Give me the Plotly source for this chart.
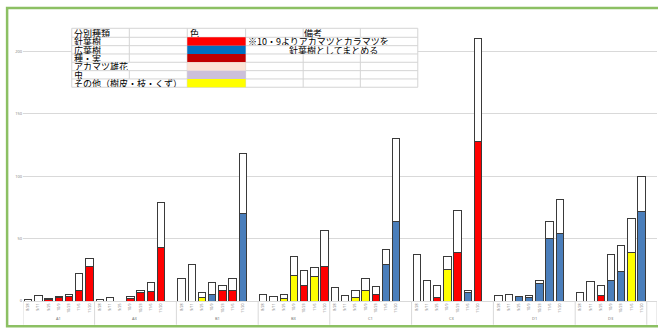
import plotly.graph_objects as go

# ---------------- data ----------------
groups = ["A1", "A3", "B1", "B3", "C1", "C3", "D1", "D3"]
dates = ["8/28", "9/11", "9/25", "10/9", "10/23", "11/6", "11/20"]

# 針葉樹 (red)
conifer = [
    0, 0, 1, 2.8, 3.4, 8.8, 27.6,
    0, 0, 0, 2, 6.8, 7.6, 42.8,
    0, 0, 0, 0, 8.8, 8.6, 0,
    0, 0, 0, 0, 12.8, 0, 27.6,
    0, 0, 0, 0, 5.6, 0, 0,
    0, 0, 2.8, 0, 38.8, 0, 128,
    0, 0, 0, 0, 0, 0, 0,
    0, 0, 4.8, 0, 0, 0, 0,
]
# 広葉樹 (blue)
broadleaf = [
    0, 0, 0, 0, 0, 0, 0,
    0, 0, 0, 0, 0, 0, 0,
    0, 0, 0, 5, 0, 0, 69.8,
    0, 0, 0, 0, 0, 0, 0,
    0, 0, 0, 0, 0, 29, 64,
    0, 0, 0, 0, 0, 6.6, 0,
    0, 0, 3.4, 3.2, 14.4, 49.8, 53.8,
    0, 0, 0, 16.4, 24, 0, 71.4,
]
# その他 (yellow)
others = [
    0, 0, 0, 0, 0, 0, 0,
    0, 0, 0, 0, 0, 0, 0,
    0, 0, 2.8, 0, 0, 0, 0,
    0, 0, 2.4, 20.2, 0, 19.6, 0,
    0, 0, 2.6, 8.8, 0, 0, 0,
    0, 0, 0, 25.6, 0, 0, 0,
    0, 0, 0, 0, 0, 0, 0,
    0, 0, 0, 0, 0, 38.8, 0,
]
# 未分類 (white, stacked on top)
unsorted = [
    1.2, 4.8, 0.8, 1.2, 2.2, 13.6, 6.2,
    1.2, 2.8, 0, 1.6, 2, 7.2, 36.2,
    18, 29.2, 4.4, 9.8, 3.6, 9.8, 48.6,
    5.6, 3.4, 3.2, 15.4, 11.6, 7.6, 29.2,
    10.6, 4.8, 6.2, 9.6, 6.4, 12, 66,
    37, 16.8, 10, 10, 34, 2.2, 82,
    4.8, 5.6, 0.3, 1.6, 2.4, 14.2, 27.2,
    6.8, 16, 7.6, 20.6, 20.2, 27, 28.6,
]
y_ticks = [0, 50, 100, 150, 200]

legend_rows = ["針葉樹", "広葉樹", "種・実", "アカマツ雄花", "虫", "その他（樹皮・枝・くず）"]
legend_colors = ["#FF0000", "#0070C0", "#C00000", "#FCE4D6", "#CCC0DA", "#FFFF00"]
note_lines = ["※10・9よりアカマツとカラマツを", "針葉樹としてまとめる"]

# ---------------- layout helpers ----------------
W_PX, H_PX = 658, 329
group_start = [0, 7, 15, 23, 30, 38, 46, 54]   # slot index of first bar of each group
x_range = [-0.5, 61.5]
L, R, T, B = 22.9, 0.6, 20.0, 27.75
PW = W_PX - L - R
PH = H_PX - T - B


def px(xp):
    return (xp - L) / PW


def py(yp):
    return (H_PX - B - yp) / PH


xs = []
ticktext = []
for gs in group_start:
    for i, d in enumerate(dates):
        xs.append(gs + i)
        ticktext.append(d)

outline = dict(color="#3A3A3A", width=1)
fig = go.Figure()
for name, vals, col in [("針葉樹", conifer, "#FF0000"),
                        ("広葉樹", broadleaf, "#4A7EBB"),
                        ("その他", others, "#FFFF00"),
                        ("未分類", unsorted, "#FFFFFF")]:
    fig.add_trace(go.Bar(x=xs, y=vals, name=name, width=0.72,
                         marker=dict(color=col, line=outline),
                         showlegend=False))

shapes = []
annotations = []

# group separators below axis
bounds = [-0.5] + [gs - 0.5 for gs in group_start[1:]] + [60.5, 61.5]
for bx in bounds:
    shapes.append(dict(type="line", xref="x", yref="paper", x0=bx, x1=bx,
                       y0=0, y1=py(325), line=dict(color="#D9D9D9", width=1)))

group_centers = [3, 10.5, 18.5, 26, 33.5, 41.5, 49.5, 57]
for g, c in zip(groups, group_centers):
    annotations.append(dict(x=c, y=py(323), xref="x", yref="paper", text=g,
                            showarrow=False, font=dict(size=4, color="#777777",
                                                       family="Noto Sans")))

# table overlay
tx0, tx1 = 71.7, 418.0
ty = [28.3, 37.3, 45.7, 54.0, 62.3, 70.7, 79.0, 87.3]
shapes.append(dict(type="rect", xref="paper", yref="paper", x0=px(tx0), x1=px(tx1),
                   y0=py(ty[-1]), y1=py(ty[0]), fillcolor="white",
                   line=dict(width=0), layer="above"))
gl = dict(color="#D4D4D4", width=1)
for yy in ty:
    shapes.append(dict(type="line", xref="paper", yref="paper", x0=px(tx0), x1=px(tx1),
                       y0=py(yy), y1=py(yy), line=gl, layer="above"))
# vertical lines (skip segments hidden by overflowing text)
for cx in [71.7, 187.3, 245.7, 418.0]:
    shapes.append(dict(type="line", xref="paper", yref="paper", x0=px(cx), x1=px(cx),
                       y0=py(ty[0]), y1=py(ty[-1]), line=gl, layer="above"))
for (a, b) in [(ty[0], ty[4]), (ty[5], ty[6])]:
    shapes.append(dict(type="line", xref="paper", yref="paper", x0=px(129.3), x1=px(129.3),
                       y0=py(a), y1=py(b), line=gl, layer="above"))
for cx in [303.3, 360.5]:
    for (a, b) in [(ty[0], ty[1]), (ty[3], ty[-1])]:
        shapes.append(dict(type="line", xref="paper", yref="paper", x0=px(cx), x1=px(cx),
                           y0=py(a), y1=py(b), line=gl, layer="above"))
# colour cells
for i, c in enumerate(legend_colors):
    shapes.append(dict(type="rect", xref="paper", yref="paper", x0=px(187.3), x1=px(245.7),
                       y0=py(ty[i + 2]), y1=py(ty[i + 1]), fillcolor=c,
                       line=dict(width=0), layer="above"))

tfont = dict(size=9, color="#000000", family="Noto Sans CJK JP")


def label(text, xl, yc, anchor="left"):
    annotations.append(dict(x=px(xl), y=py(yc), xref="paper", yref="paper", text=text,
                            showarrow=False, xanchor=anchor, yanchor="middle",
                            height=8, borderpad=0, valign="middle",
                            font=tfont))


label("分別種類", 73, 32.8)
label("色", 189, 32.8)
label("備考", 303.5, 32.8)
for i, t in enumerate(legend_rows):
    label(t, 73, (ty[i + 1] + ty[i + 2]) / 2)
label(note_lines[0], 247, (ty[1] + ty[2]) / 2)
label(note_lines[1], 334, (ty[2] + ty[3]) / 2, anchor="center")

# green chart-area frame
shapes.append(dict(type="rect", xref="paper", yref="paper", x0=px(7), x1=px(700),
                   y0=py(326.5), y1=py(8), line=dict(color="#8CC063", width=2.5),
                   layer="above"))

fig.update_layout(
    width=W_PX, height=H_PX,
    margin=dict(l=L, r=R, t=T, b=B, pad=0),
    barmode="stack",
    paper_bgcolor="white", plot_bgcolor="white",
    shapes=shapes, annotations=annotations,
    xaxis=dict(range=x_range, tickmode="array", tickvals=xs, ticktext=ticktext,
               tickangle=-90, tickfont=dict(size=3.5, color="#777777", family="Noto Sans"),
               showgrid=False, zeroline=False, showline=True, linecolor="#D9D9D9",
               linewidth=1, ticks="", automargin=False, fixedrange=True),
    yaxis=dict(range=[0, 225], tickmode="array", tickvals=y_ticks,
               tickfont=dict(size=4, color="#888888", family="Noto Sans"),
               showgrid=True, gridcolor="#D9D9D9", gridwidth=1, zeroline=False,
               showline=False, ticks="", automargin=False, fixedrange=True),
)

fig.write_html("out.html")
